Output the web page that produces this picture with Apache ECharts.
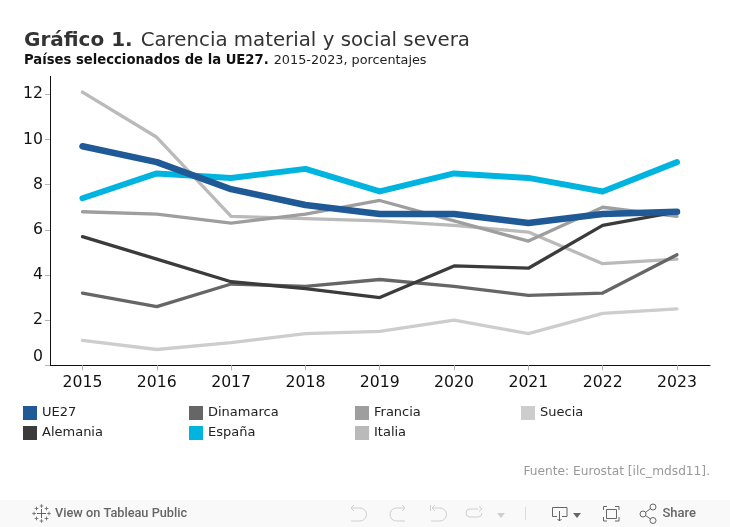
<!DOCTYPE html>
<html>
<head>
<meta charset="utf-8">
<script src="https://cdn.jsdelivr.net/npm/echarts@6/dist/echarts.min.js"></script>
<style>html,body{margin:0;padding:0;background:#fff}#c{width:730px;height:527px}</style>
</head>
<body>
<div id="c"></div>
<script>
const years = [2015,2016,2017,2018,2019,2020,2021,2022,2023];
const yTicks = [0,2,4,6,8,10,12];
const UE27 = [9.7,9.0,7.8,7.1,6.7,6.7,6.3,6.7,6.8];
const Alemania = [5.7,4.7,3.7,3.4,3.0,4.4,4.3,6.2,6.8];
const Dinamarca = [3.2,2.6,3.6,3.5,3.8,3.5,3.1,3.2,4.9];
const Espana = [7.4,8.5,8.3,8.7,7.7,8.5,8.3,7.7,9.0];
const Francia = [6.8,6.7,6.3,6.7,7.3,6.4,5.5,7.0,6.6];
const Italia = [12.1,10.1,6.6,6.5,6.4,6.2,5.9,4.5,4.7];
const Suecia = [1.1,0.7,1.0,1.4,1.5,2.0,1.4,2.3,2.5];

const font = 'DejaVu Sans';
const pair = v => v.map((y,i)=>[years[i],y]);
const mk = (name,data,color,w)=>({name,type:'line',data:pair(data),color,symbol:'none',silent:true,animation:false,
  lineStyle:{color,width:w,cap:'round',join:'round'},itemStyle:{color}});
const legends = [
  ['UE27',23,406],['Alemania',23,426],
  ['Dinamarca',189,406],['España',189,426],
  ['Francia',355,406],['Italia',355,426],
  ['Suecia',521,406]
].map(([n,left,top])=>({data:[{name:n,icon:'rect'}],left,top,itemWidth:14,itemHeight:14,itemGap:5,padding:0,
  selectedMode:false,textStyle:{fontFamily:font,fontSize:13,color:'#222',padding:[1,0,0,0]}}));

const gray='#b5b5b5';
const pl=(pts,stroke)=>({type:'polyline',shape:{points:pts},style:{stroke,lineWidth:1,fill:null},silent:true});
const tri=(x,y,fill)=>({type:'polygon',shape:{points:[[x,y],[x+8,y],[x+4,y+5]]},style:{fill},silent:true});
const circ=(cx,cy,r,stroke)=>({type:'circle',shape:{cx,cy,r},style:{stroke,lineWidth:1,fill:null},silent:true});
const arc=(cx,cy,r,a,b,stroke,cw)=>({type:'arc',shape:{cx,cy,r,startAngle:a,endAngle:b,clockwise:cw},style:{stroke,lineWidth:1,fill:null},silent:true});
const cross=(x,y,r,stroke)=>[pl([[x-r,y],[x+r,y]],stroke),pl([[x,y-r],[x,y+r]],stroke)];
const hp=Math.PI/2;
const c1='#cfcfcf', c2='#666666', c3='#7a7a7a';
const option={
  animation:false,
  backgroundColor:'#fff',
  title:[
    {text:'{b|Gráfico 1.} {n|Carencia material y social severa}',left:24,top:31,padding:0,
     textStyle:{fontWeight:'normal',rich:{b:{fontFamily:font,fontSize:20,fontWeight:'bold',color:'#333'},n:{fontFamily:font,fontSize:19.8,fontWeight:'normal',color:'#333',padding:[0,0,0,3]}}}},
    {text:'{b|Países seleccionados de la UE27.} {n|2015-2023, porcentajes}',left:24,top:52,padding:0,
     textStyle:{fontWeight:'normal',rich:{b:{fontFamily:font,fontSize:13.2,fontWeight:'bold',color:'#111'},n:{fontFamily:font,fontSize:12.8,fontWeight:'normal',color:'#222'}}}}
  ],
  legend:legends,
  grid:{left:50,right:20,top:76.3,bottom:161.7,containLabel:false},
  xAxis:{type:'value',min:2014.563,max:2023.444,
    axisLine:{show:true,onZero:false,lineStyle:{color:'#111',width:1}},
    axisTick:{show:true,length:5,customValues:years,lineStyle:{color:gray}},
    axisLabel:{customValues:years,formatter:v=>String(v),margin:10,fontFamily:font,fontSize:15.7,color:'#111'},
    splitLine:{show:false}},
  yAxis:{type:'value',min:0,max:12.8,
    axisLine:{show:true,onZero:false,lineStyle:{color:'#111',width:1}},
    axisTick:{show:true,length:5,customValues:yTicks,lineStyle:{color:gray}},
    axisLabel:{customValues:yTicks,margin:7,padding:[2,0,0,0],fontFamily:font,fontSize:15.7,color:'#111',verticalAlignMinLabel:'bottom'},
    splitLine:{show:false}},
  series:[
    mk('Suecia',Suecia,'#cdcdcd',3.3),
    mk('Italia',Italia,'#bababa',3.3),
    mk('Francia',Francia,'#9e9e9e',3.3),
    mk('Dinamarca',Dinamarca,'#666666',3.3),
    mk('Alemania',Alemania,'#3b3b3b',3.3),
    mk('España',Espana,'#00b4e0',6),
    mk('UE27',UE27,'#1f5a96',6.5)
  ],
  graphic:{elements:[
    {type:'text',right:20,top:465.5,style:{text:'Fuente: Eurostat [ilc_mdsd11].',fontFamily:font,fontSize:12.2,fill:'#999'}},
    {type:'rect',shape:{x:0,y:500,width:730,height:27},style:{fill:'#f9f9f9'},silent:true},
    {type:'text',x:55,y:507.5,style:{text:'View on Tableau Public',fontFamily:'Roboto',fontSize:12.75,fontWeight:500,fill:'#666'}},
    {type:'text',x:662.5,y:507.5,style:{text:'Share',fontFamily:'Roboto',fontSize:13,fontWeight:500,fill:'#666'}},
    ...cross(41.5,513.5,4.5,c2),
    ...cross(41.5,506,1.8,c3),...cross(41.5,521,1.8,c3),...cross(34,513.5,1.8,c3),...cross(49,513.5,1.8,c3),
    ...cross(36.5,508.5,1.8,c3),...cross(46.5,508.5,1.8,c3),...cross(36.5,518.5,1.8,c3),...cross(46.5,518.5,1.8,c3),
    pl([[354,505],[351,508],[354,511]],c1),pl([[351,508],[360,508]],c1),arc(360,514.5,6.5,-hp,hp,c1,true),pl([[360,521],[351,521]],c1),
    pl([[402,505],[405,508],[402,511]],c1),pl([[405,508],[396.5,508]],c1),arc(396.5,514.5,6.5,-hp,hp,c1,false),pl([[396.5,521],[405,521]],c1),
    pl([[430.5,505],[430.5,511]],c1),pl([[435,505],[432,508],[435,511]],c1),pl([[432,508],[440,508]],c1),arc(440,514.5,6.5,-hp,hp,c1,true),pl([[440,521],[431,521]],c1),
    pl([[478,509],[470,509]],c1),arc(470,513,4,-hp,hp,c1,false),pl([[470,517],[478,517]],c1),arc(478,513,4,0,hp,c1,true),pl([[479,506.5],[482,509],[479,511.5]],c1),
    tri(497,513,c1),
    pl([[525.5,507],[525.5,520]],'#ddd'),
    pl([[557,516.5],[552.5,516.5],[552.5,507.5],[567,507.5],[567,516.5],[562,516.5]],c2),pl([[559.5,511],[559.5,521]],c2),pl([[557.5,519],[559.5,521],[561.5,519]],c2),
    tri(573,513,c2),
    pl([[603.5,510],[603.5,506.5],[607,506.5]],c2),pl([[615,506.5],[619,506.5],[619,510]],c2),pl([[619,517],[619,521],[615,521]],c2),pl([[607,521],[603.5,521],[603.5,517]],c2),
    {type:'rect',shape:{x:606.5,y:509.5,width:10,height:9},style:{stroke:c2,lineWidth:1,fill:null},silent:true},
    pl([[645.5,512.5],[650.5,508.5]],c2),pl([[645.5,515.5],[650.5,519]],c2),circ(653,507,3,c2),circ(653,520.5,3,c2),circ(643,514,3,c2)
  ]}
};
const chart=echarts.init(document.getElementById('c'),null,{renderer:'canvas'});
chart.setOption(option);
</script>
</body>
</html>
